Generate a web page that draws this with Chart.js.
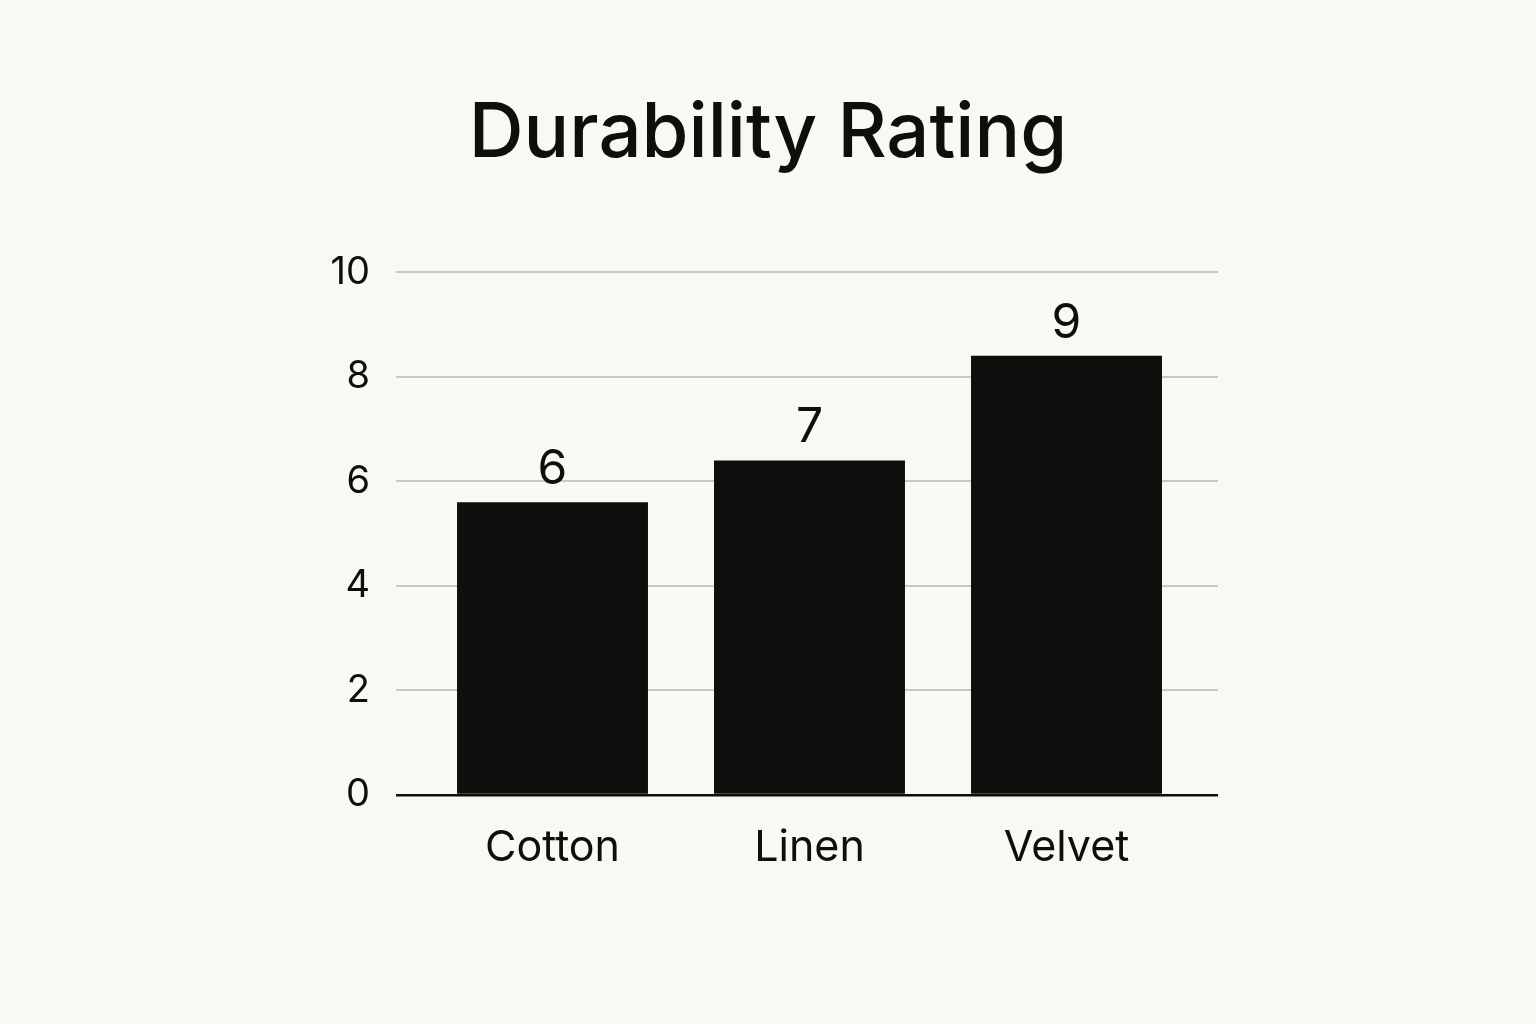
<!DOCTYPE html>
<html>
<head>
<meta charset="utf-8">
<script src="https://cdn.jsdelivr.net/npm/chart.js@4.4.1/dist/chart.umd.min.js"></script>
<style>
  html, body { margin: 0; padding: 0; background: #f9f8f4; }
  #wrap { width: 1536px; height: 1024px; position: relative; }
</style>
</head>
<body>
<div id="wrap"><canvas id="myChart"></canvas></div>
<script>
const fabrics = ["Cotton", "Linen", "Velvet"];
const durability = [5.6, 6.4, 8.4];
const barLabels = ["6", "7", "9"];
const yTicks = [0, 2, 4, 6, 8, 10];

const ink = "#0e0e0c";
const gridGrey = "#c8c8c4";

// writes the rating above each bar
const barLabelPlugin = {
  id: "barLabels",
  afterDatasetsDraw(chart) {
    const ctx = chart.ctx;
    const meta = chart.getDatasetMeta(0);
    ctx.save();
    ctx.font = "400 48px Inter";
    ctx.fillStyle = ink;
    ctx.textAlign = "center";
    ctx.textBaseline = "alphabetic";
    meta.data.forEach(function (bar, i) {
      ctx.fillText(barLabels[i], bar.x, bar.y - 18);
    });
    ctx.restore();
  }
};

function gridColor(c) {
  return c.tick && c.tick.value === 0 ? ink : gridGrey;
}
function gridWidth(c) {
  return c.tick && c.tick.value === 0 ? 2.5 : 2;
}

document.addEventListener("DOMContentLoaded", function () {
  const ctx = document.getElementById("myChart");
  new Chart(ctx, {
    type: "bar",
    data: {
      labels: fabrics,
      datasets: [{
        data: durability,
        backgroundColor: ink,
        barPercentage: 0.743,
        categoryPercentage: 1.0
      }]
    },
    options: {
      responsive: true,
      maintainAspectRatio: false,
      animation: false,
      layout: { padding: 0 },
      plugins: {
        legend: { display: false },
        tooltip: { enabled: false },
        title: {
          display: true,
          text: "Durability Rating",
          color: ink,
          font: { family: "Inter", size: 76, weight: "500", lineHeight: 1.2 },
          padding: { top: 89, bottom: 92 }
        }
      },
      scales: {
        x: {
          grid: { display: false, drawTicks: false },
          border: { display: false },
          ticks: {
            color: ink,
            padding: 27,
            font: { family: "Inter", size: 43 }
          },
          afterFit: function (s) { s.height = 229; }
        },
        y: {
          min: 0,
          max: 10,
          afterBuildTicks: function (s) {
            s.ticks = yTicks.map(function (v) { return { value: v }; });
          },
          border: { display: false },
          grid: { color: gridColor, lineWidth: gridWidth, tickLength: 28 },
          ticks: {
            color: ink,
            padding: 26,
            font: { family: "Inter", size: 38 }
          },
          afterFit: function (s) { s.width = 424; }
        },
        y2: {
          position: "right",
          min: 0,
          max: 10,
          afterBuildTicks: function (s) {
            s.ticks = yTicks.map(function (v) { return { value: v }; });
          },
          border: { display: false },
          grid: { color: gridColor, lineWidth: gridWidth, tickLength: 23, drawOnChartArea: false },
          ticks: { display: false },
          afterFit: function (s) { s.width = 341; }
        }
      }
    },
    plugins: [barLabelPlugin]
  });
});
</script>
</body>
</html>
